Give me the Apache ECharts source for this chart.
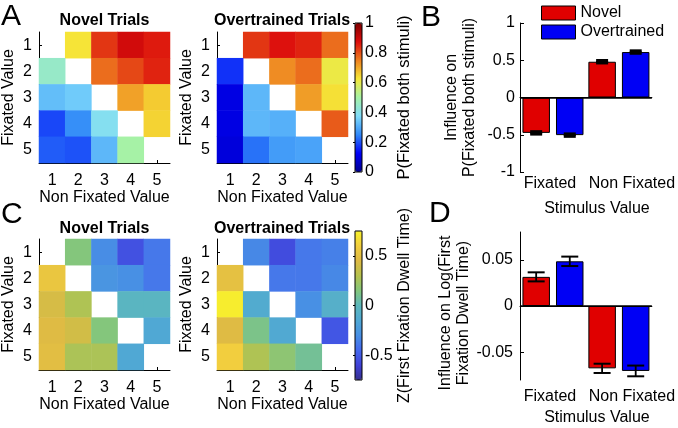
<!DOCTYPE html>
<html><head><meta charset="utf-8">
<script src="https://cdn.jsdelivr.net/npm/echarts@6/dist/echarts.min.js"></script>
<style>html,body{margin:0;padding:0;background:#fff}#c{width:678px;height:428px}</style>
</head><body><div id="c"></div>
<script>
// ---------- data ----------
const valueLabels = ['1', '2', '3', '4', '5'];           // fixated (rows) / non fixated (cols)
// P(Fixated both stimuli), rows = fixated value 1..5, cols = non fixated value 1..5
const pBothNovel = [
  [null, 0.63, 0.83, 0.89, 0.86],
  [0.45, null, 0.77, 0.81, 0.85],
  [0.33, 0.35, null, 0.71, 0.66],
  [0.19, 0.26, 0.39, null, 0.65],
  [0.21, 0.20, 0.32, 0.50, null]
];
const pBothOvertrained = [
  [null, 0.83, 0.87, 0.85, 0.77],
  [0.17, null, 0.735, 0.77, 0.61],
  [0.10, 0.32, null, 0.715, 0.635],
  [0.10, 0.32, 0.31, null, 0.79],
  [0.09, 0.23, 0.28, 0.29, null]
];
// Z(First Fixation Dwell Time)
const dwellNovel = [
  [null, 0.15, -0.31, -0.54, -0.39],
  [0.54, null, -0.27, -0.30, -0.39],
  [0.42, 0.28, null, -0.03, -0.03],
  [0.46, 0.40, 0.15, null, -0.15],
  [0.48, 0.27, 0.27, -0.15, null]
];
const dwellOvertrained = [
  [null, -0.33, -0.56, -0.39, -0.36],
  [0.50, null, -0.39, -0.39, -0.33],
  [0.73, -0.12, null, -0.30, -0.08],
  [0.46, 0.12, -0.14, null, -0.52],
  [0.60, 0.28, 0.18, 0.09, null]
];
const stimulusCategories = ['Fixated', 'Non Fixated'];
const pInfluenceNovel = [-0.475, 0.48];
const pInfluenceNovelErr = [0.013, 0.013];
const pInfluenceOvertrained = [-0.505, 0.61];
const pInfluenceOvertrainedErr = [0.013, 0.013];
const dwellInfluenceNovel = [0.0315, -0.0674];
const dwellInfluenceNovelErr = [0.0049, 0.0050];
const dwellInfluenceOvertrained = [0.0483, -0.0702];
const dwellInfluenceOvertrainedErr = [0.0051, 0.0058];
const zColorbarTicks = [-0.5, 0, 0.5];
const dTicks = [-0.05, 0, 0.05];

// ---------- styles ----------
const FONT = '"Liberation Sans", Arial, Helvetica, sans-serif';
const jetColors = ['#00008F', '#0000F8', '#3088F8', '#80DCFA', '#A6F2A6', '#F6E838', '#EE8020', '#DC0C0C', '#800000'];
const parulaColors = ['#36308F', '#4042D8', '#4468EE', '#4890E4', '#50A8D4', '#5CB8BC', '#84C67C', '#B6C24E', '#DEBA44', '#F2CE3E', '#F8F22C'];
const RED = '#E00000', BLUE = '#0000F5';

function toCells(m) {
  const out = [];
  m.forEach((row, r) => row.forEach((v, c) => { if (v !== null) out.push([c, r, v]); }));
  return out;
}
const txt = { color: '#000', fontFamily: FONT, fontSize: 16 };
const blackLine = { show: true, lineStyle: { color: '#000', width: 1 } };

function heatX(gi) {
  return {
    gridIndex: gi, type: 'category', data: valueLabels,
    axisLine: blackLine,
    axisTick: { show: true, inside: true, alignWithLabel: true, length: 3, lineStyle: { color: '#000' } },
    axisLabel: Object.assign({ margin: 10, interval: 0 }, txt),
    splitLine: { show: false },
    name: 'Non Fixated Value', nameLocation: 'middle', nameGap: 27, nameTextStyle: txt
  };
}
function heatY(gi) {
  return {
    gridIndex: gi, type: 'category', data: valueLabels, inverse: true,
    axisLine: blackLine,
    axisTick: { show: true, inside: true, alignWithLabel: true, length: 3, lineStyle: { color: '#000' } },
    axisLabel: Object.assign({ margin: 7, interval: 0 }, txt),
    splitLine: { show: false },
    name: 'Fixated Value', nameLocation: 'middle', nameGap: 22, nameTextStyle: txt
  };
}
const stimRich = {
  f: Object.assign({ padding: [0, 6, 0, 0] }, txt),
  n: Object.assign({ padding: [0, 0, 0, 26] }, txt)
};
function barX(gi, margin, nameGap) {
  return {
    gridIndex: gi, type: 'category', data: stimulusCategories,
    axisLine: blackLine, axisTick: { show: false },
    axisLabel: Object.assign({ margin: margin, interval: 0, hideOverlap: false, rich: stimRich,
      formatter: v => v === 'Fixated' ? '{f|' + v + '}' : '{n|' + v + '}' }, txt),
    name: 'Stimulus Value', nameLocation: 'middle', nameGap: nameGap,
    nameTextStyle: Object.assign({ padding: [0, 0, 0, 22] }, txt)
  };
}
function errRender(offset, cap, lw, capLw) {
  return function (params, api) {
    const i = api.value(0);
    const lo = api.coord([i, api.value(1)]);
    const hi = api.coord([i, api.value(2)]);
    const x = lo[0] + offset;
    const st = { stroke: '#000', lineWidth: lw };
    const cst = { stroke: '#000', lineWidth: capLw };
    return { type: 'group', children: [
      { type: 'line', shape: { x1: x, y1: lo[1], x2: x, y2: hi[1] }, style: st },
      { type: 'line', shape: { x1: x - cap / 2, y1: lo[1], x2: x + cap / 2, y2: lo[1] }, style: cst },
      { type: 'line', shape: { x1: x - cap / 2, y1: hi[1], x2: x + cap / 2, y2: hi[1] }, style: cst }
    ] };
  };
}
function errData(vals, errs) { return vals.map((v, i) => [i, v - errs[i], v + errs[i]]); }
const OFF = 16.8;
function barSeries(name, color, xi, yi, data, withZero) {
  const s = {
    name: name, type: 'bar', xAxisIndex: xi, yAxisIndex: yi, data: data,
    barWidth: 27.5, barGap: '22%',
    itemStyle: { color: color, borderColor: '#000', borderWidth: 1 },
    emphasis: { disabled: true }
  };
  if (withZero) s.markLine = { silent: true, symbol: ['none', 'none'], label: { show: false },
    lineStyle: { color: '#000', type: 'solid', width: 1.5 }, data: [{ yAxis: 0 }] };
  return s;
}
function textEl(text, x, y, size, weight, align) {
  return { type: 'text', x: x, y: y, silent: true,
    style: { text: text, fill: '#000', fontFamily: FONT, fontSize: size, fontWeight: weight,
      textAlign: align || 'center', textVerticalAlign: 'middle' } };
}

const option = {
  animation: false,
  backgroundColor: '#fff',
  graphic: [
    textEl('A', 1, 17, 30, 'normal', 'left'),
    textEl('B', 421, 18, 30, 'normal', 'left'),
    textEl('C', 1, 215, 30, 'normal', 'left'),
    textEl('D', 429, 214, 30, 'normal', 'left'),
    textEl('Novel Trials', 104.5, 21, 16, 'bold'),
    textEl('Overtrained Trials', 282, 21, 16, 'bold'),
    textEl('Novel Trials', 104.5, 229, 16, 'bold'),
    textEl('Overtrained Trials', 282, 229, 16, 'bold')
  ],
  grid: [
    { left: 39, top: 32, width: 131, height: 131 },
    { left: 217, top: 32, width: 131, height: 131 },
    { left: 355, top: 23, width: 7, height: 149, show: true, borderColor: '#000', borderWidth: 1, z: 10 },
    { left: 520, top: 23, width: 132, height: 149 },
    { left: 39, top: 239, width: 131, height: 131 },
    { left: 217, top: 239, width: 131, height: 131 },
    { left: 355, top: 231, width: 7, height: 149, show: true, borderColor: '#000', borderWidth: 1, z: 10 },
    { left: 520, top: 232, width: 132, height: 148 }
  ],
  xAxis: [
    heatX(0), heatX(1),
    { gridIndex: 2, type: 'value', min: 0, max: 1, show: false },
    barX(3, 4, 29),
    heatX(4), heatX(5),
    { gridIndex: 6, type: 'value', min: 0, max: 1, show: false },
    barX(7, 9, 30)
  ],
  yAxis: [
    heatY(0), heatY(1),
    { gridIndex: 2, type: 'value', position: 'right', min: 0, max: 1, interval: 0.2,
      axisLine: { show: false }, splitLine: { show: false },
      axisTick: { show: true, inside: true, length: 2, lineStyle: { color: '#000' } },
      axisLabel: Object.assign({ margin: 3 }, txt),
      name: 'P(Fixated both stimuli)', nameLocation: 'middle', nameGap: 34,
      nameTextStyle: Object.assign({}, txt, { fontSize: 16.5 }) },
    { gridIndex: 3, type: 'value', min: -1, max: 1, interval: 0.5,
      axisLine: blackLine, splitLine: { show: false },
      axisTick: { show: true, inside: true, length: 4, lineStyle: { color: '#000' } },
      axisLabel: Object.assign({ margin: 5 }, txt),
      name: 'Influence on\nP(Fixated both stimuli)', nameLocation: 'middle', nameGap: 41,
      nameTextStyle: Object.assign({ lineHeight: 18 }, txt) },
    heatY(4), heatY(5),
    { gridIndex: 6, type: 'value', position: 'right', min: -0.75, max: 0.75,
      axisLine: { show: false }, splitLine: { show: false },
      axisTick: { show: true, inside: true, length: 2, lineStyle: { color: '#000' }, customValues: zColorbarTicks },
      axisLabel: Object.assign({ margin: 3, customValues: zColorbarTicks }, txt),
      name: 'Z(First Fixation Dwell Time)', nameLocation: 'middle', nameGap: 34, nameTextStyle: txt },
    { gridIndex: 7, type: 'value', min: -0.08, max: 0.08,
      axisLine: blackLine, splitLine: { show: false },
      axisTick: { show: true, inside: true, length: 4, lineStyle: { color: '#000' }, customValues: dTicks },
      axisLabel: Object.assign({ margin: 7, customValues: dTicks }, txt),
      name: 'Influence on Log(First\nFixation Dwell Time)', nameLocation: 'middle', nameGap: 41,
      nameTextStyle: Object.assign({ lineHeight: 18, padding: [0, 14, 0, 0] }, txt) }
  ],
  visualMap: [
    { type: 'continuous', min: 0, max: 1, seriesIndex: [0, 1], inRange: { color: jetColors },
      calculable: false, left: 355, top: 23, itemWidth: 7, itemHeight: 149, padding: 0,
      text: null, showLabel: false, hoverLink: false, z: 2 },
    { type: 'continuous', min: -0.75, max: 0.75, seriesIndex: [2, 3], inRange: { color: parulaColors },
      calculable: false, left: 355, top: 231, itemWidth: 7, itemHeight: 149, padding: 0,
      text: null, showLabel: false, hoverLink: false, z: 2 }
  ],
  legend: {
    data: ['Novel', 'Overtrained'], orient: 'vertical', left: 541, top: 5, padding: 0,
    itemWidth: 34, itemHeight: 14, itemGap: 3, icon: 'rect', selectedMode: false,
    itemStyle: { borderColor: '#000', borderWidth: 1 }, textStyle: txt
  },
  series: [
    { type: 'heatmap', xAxisIndex: 0, yAxisIndex: 0, data: toCells(pBothNovel), emphasis: { disabled: true } },
    { type: 'heatmap', xAxisIndex: 1, yAxisIndex: 1, data: toCells(pBothOvertrained), emphasis: { disabled: true } },
    { type: 'heatmap', xAxisIndex: 4, yAxisIndex: 4, data: toCells(dwellNovel), emphasis: { disabled: true } },
    { type: 'heatmap', xAxisIndex: 5, yAxisIndex: 5, data: toCells(dwellOvertrained), emphasis: { disabled: true } },
    barSeries('Novel', RED, 3, 3, pInfluenceNovel, true),
    barSeries('Overtrained', BLUE, 3, 3, pInfluenceOvertrained, false),
    { type: 'custom', xAxisIndex: 3, yAxisIndex: 3, z: 5, silent: true, encode: { x: 0, y: [1, 2] },
      renderItem: errRender(-OFF, 12, 2.5, 3.5), data: errData(pInfluenceNovel, pInfluenceNovelErr) },
    { type: 'custom', xAxisIndex: 3, yAxisIndex: 3, z: 5, silent: true, encode: { x: 0, y: [1, 2] },
      renderItem: errRender(OFF, 12, 2.5, 3.5), data: errData(pInfluenceOvertrained, pInfluenceOvertrainedErr) },
    barSeries('Novel', RED, 7, 7, dwellInfluenceNovel, true),
    barSeries('Overtrained', BLUE, 7, 7, dwellInfluenceOvertrained, false),
    { type: 'custom', xAxisIndex: 7, yAxisIndex: 7, z: 5, silent: true, encode: { x: 0, y: [1, 2] },
      renderItem: errRender(-OFF, 17, 1.8, 2), data: errData(dwellInfluenceNovel, dwellInfluenceNovelErr) },
    { type: 'custom', xAxisIndex: 7, yAxisIndex: 7, z: 5, silent: true, encode: { x: 0, y: [1, 2] },
      renderItem: errRender(OFF, 17, 1.8, 2), data: errData(dwellInfluenceOvertrained, dwellInfluenceOvertrainedErr) }
  ]
};
const chart = echarts.init(document.getElementById('c'), null, { renderer: 'canvas' });
chart.setOption(option);
</script></body></html>
